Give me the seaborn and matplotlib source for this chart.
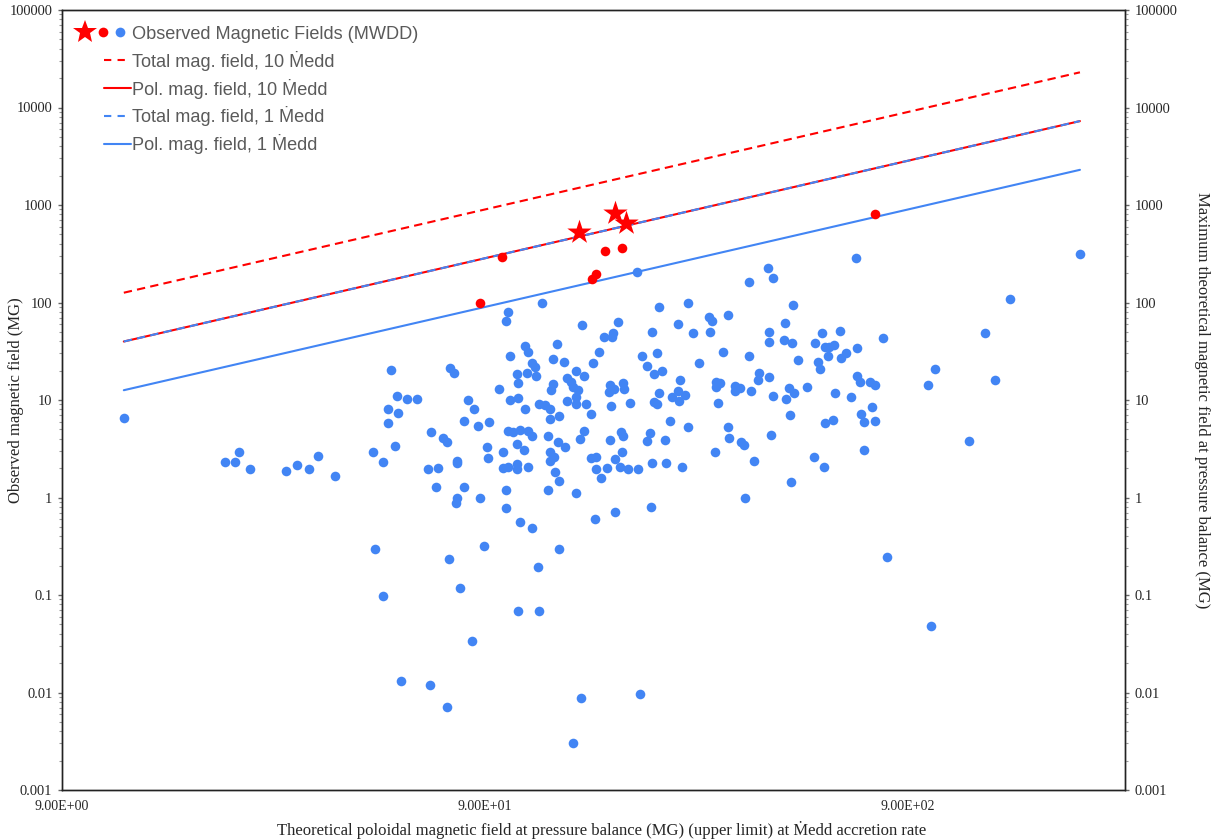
import matplotlib
matplotlib.use("Agg")
import matplotlib.pyplot as plt
import seaborn as sns
from matplotlib.lines import Line2D
from matplotlib.legend_handler import HandlerBase
from matplotlib.ticker import FixedLocator, FixedFormatter, NullLocator, LogLocator, NullFormatter

# ---------------- data ----------------
blue_x = [12.6, 21.9, 23.1, 23.6, 25.0, 30.4, 32.3, 34.5, 36.3, 39.8,
          53.9, 74.4, 76.0, 107, 113, 119, 108, 97.1, 55.7, 58.9,
          62.1, 82.0, 103, 108, 121, 125, 128, 53.1, 84.8, 112,
          56.0, 80.3, 92.0, 53.1, 86.6, 128, 67.1, 102, 105, 109,
          114, 116, 127, 71.5, 73.0, 107, 90.9, 111, 55.1, 48.9,
          99.2, 128, 131, 128, 51.6, 91.5, 77.3, 77.3, 66.0, 69.7,
          99.2, 102, 107, 107, 114, 68.9, 80.3, 101, 127, 77.3,
          76.8, 87.6, 101, 109, 116, 49.4, 89.5, 74.0, 120, 123,
          102, 101, 112, 114, 103, 116, 118, 130, 51.6, 78.5,
          108, 121, 83.8, 57.0, 66.7, 73.2, 152, 209, 145, 206,
          379, 232, 272, 153, 186, 257, 305, 310, 338, 223,
          279, 306, 172, 181, 180, 133, 167, 229, 329, 138,
          162, 211, 217, 288, 379, 148, 236, 154, 141, 130,
          129, 144, 145, 149, 178, 191, 177, 192, 182, 226,
          260, 232, 257, 249, 267, 259, 226, 229, 316, 323,
          316, 351, 361, 351, 383, 141, 148, 148, 156, 179,
          198, 320, 160, 135, 246, 272, 338, 154, 151, 189,
          191, 221, 217, 178, 240, 340, 363, 369, 134, 139,
          190, 315, 160, 165, 183, 165, 175, 188, 196, 207,
          223, 241, 263, 132, 169, 135, 148, 371, 222, 183,
          164, 135, 678, 420, 432, 481, 461, 422, 422, 458,
          479, 563, 622, 542, 573, 585, 602, 682, 786, 582,
          642, 625, 494, 551, 557, 1042, 400, 398, 422,
          432, 463, 471, 484, 519, 605, 660, 682, 693, 732,
          752, 1004, 473, 740, 697, 708, 752, 598, 573, 427,
          389, 540, 570, 708, 476, 803,
          2295, 1568, 1368, 1445, 1254, 1020]
blue_y = [6.54, 2.31, 2.31, 2.93, 1.96, 1.87, 2.16, 1.96, 2.67, 1.66,
          20.3, 21.3, 18.9, 18.5, 18.9, 17.6, 14.9, 13.0, 11.0, 10.2,
          10.2, 10.0, 10.0, 10.5, 9.1, 8.9, 8.09, 8.09, 8.09, 8.09,
          7.36, 6.09, 5.95, 5.81, 5.42, 6.39, 4.70, 4.81, 4.70, 4.93,
          4.81, 4.28, 4.28, 4.10, 3.70, 3.54, 3.30, 3.07, 3.38, 2.93,
          2.93, 2.93, 2.60, 2.37, 2.31, 2.54, 2.37, 2.26, 1.96, 2.01,
          2.01, 2.06, 2.21, 1.96, 2.06, 1.28, 1.28, 1.19, 1.19, 0.99,
          0.88, 0.99, 0.78, 0.56, 0.49, 0.297, 0.318, 0.234, 0.194, 98.9,
          80.0, 64.6, 35.8, 31.1, 28.3, 24.0, 21.8, 26.3, 0.098, 0.118,
          0.069, 0.069, 0.034, 0.0131, 0.0120, 0.0071, 0.0088, 0.0097, 0.0030, 206,
          162, 90.0, 98.9, 58.8, 63.1, 60.2, 71.0, 64.6, 74.5, 49.8,
          48.7, 49.8, 44.3, 48.7, 44.3, 37.5, 31.1, 30.4, 31.1, 24.5,
          24.0, 28.3, 22.3, 24.0, 28.3, 19.8, 19.8, 17.6, 16.8, 14.6,
          12.7, 15.3, 13.6, 12.7, 14.3, 14.9, 12.1, 13.0, 13.0, 18.5,
          16.0, 11.8, 12.4, 10.7, 11.3, 9.77, 9.54, 9.10, 15.3, 14.9,
          13.6, 13.9, 13.3, 12.4, 12.4, 9.77, 10.7, 9.10, 9.10, 8.68,
          9.32, 9.32, 7.19, 6.86, 6.09, 5.29, 5.29, 4.81, 3.98, 4.70,
          4.28, 4.59, 3.80, 3.89, 3.89, 4.08, 3.71, 3.46, 3.71, 3.30,
          2.93, 2.93, 2.54, 2.60, 2.48, 1.96, 2.01, 2.06, 1.96, 1.96,
          2.26, 2.26, 2.06, 1.83, 1.59, 1.48, 1.11, 0.99, 0.80, 0.71,
          0.60, 0.297, 286, 226, 178, 94.3, 61.6, 49.8, 39.4, 41.3,
          38.4, 48.7, 51.0, 38.4, 35.0, 35.0, 36.7, 34.2, 43.3, 28.3,
          30.4, 27.0, 25.7, 24.5, 20.8, 20.8, 18.9, 16.0, 17.2,
          11.0, 10.2, 13.3, 11.8, 13.6, 11.8, 10.7, 17.6, 15.3, 15.3,
          14.3, 14.3, 7.02, 8.48, 7.19, 5.95, 6.09, 6.24, 5.81, 4.38,
          2.37, 2.60, 2.06, 3.07, 1.44, 0.245,
          314, 109, 48.7, 16.0, 3.80, 0.048]

red_x = [87.6, 99, 173, 190, 165, 161, 752]
red_y = [99, 293, 338, 362, 196, 174, 809]
star_x = [150, 183, 194]
star_y = [528, 828, 653]

line_x = [12.6, 2295]
total_10 = [126, 22950]
pol_10 = [39.8, 7257]
total_1 = [39.8, 7257]
pol_1 = [12.6, 2295]

series_labels = ["Observed Magnetic Fields (MWDD)",
                 "Total mag. field, 10 \u1E40edd",
                 "Pol. mag. field, 10 \u1E40edd",
                 "Total mag. field, 1 \u1E40edd",
                 "Pol. mag. field, 1 \u1E40edd"]
x_tick_vals = [9, 90, 900]
x_tick_labels = ["9.00E+00", "9.00E+01", "9.00E+02"]
y_tick_vals = [0.001, 0.01, 0.1, 1, 10, 100, 1000, 10000, 100000]
y_tick_labels = ["0.001", "0.01", "0.1", "1", "10", "100", "1000", "10000", "100000"]

BLUE = "#4285F4"
RED = "#FF0000"

# ---------------- style ----------------
sns.set_style("white")
plt.rcParams["font.family"] = ["Liberation Serif", "DejaVu Serif"]

fig = plt.figure(figsize=(12.19, 8.39), dpi=100)
ax = fig.add_axes([62 / 1219, 1 - 790 / 839, (1125 - 62) / 1219, 780 / 839])
ax.set_xscale("log")
ax.set_yscale("log")

dash = (0, (4, 2.5))
sns.lineplot(x=line_x, y=total_10, ax=ax, color=RED, linestyle=dash, linewidth=1.5, zorder=2)
sns.lineplot(x=line_x, y=pol_10, ax=ax, color=RED, linewidth=1.5, zorder=2)
sns.lineplot(x=line_x, y=total_1, ax=ax, color=BLUE, linestyle=dash, linewidth=1.5, zorder=2)
sns.lineplot(x=line_x, y=pol_1, ax=ax, color=BLUE, linewidth=1.5, zorder=2)

sns.scatterplot(x=blue_x, y=blue_y, ax=ax, color=BLUE, s=48, linewidth=0, zorder=3)
sns.scatterplot(x=red_x, y=red_y, ax=ax, color=RED, s=48, linewidth=0, zorder=4)
sns.scatterplot(x=star_x, y=star_y, ax=ax, color=RED, marker="*", s=340, linewidth=0, zorder=5)

ax.set_xlim(9, 2933)
ax.set_ylim(0.001, 100000)

# ticks
ax.xaxis.set_major_locator(FixedLocator(x_tick_vals))
ax.xaxis.set_major_formatter(FixedFormatter(x_tick_labels))
ax.xaxis.set_minor_locator(NullLocator())
ax.tick_params(axis="x", which="both", length=0, pad=7, labelsize=10)

def style_y(a):
    a.yaxis.set_major_locator(FixedLocator(y_tick_vals))
    a.yaxis.set_major_formatter(FixedFormatter(y_tick_labels))
    a.yaxis.set_minor_locator(LogLocator(base=10, subs=range(2, 10), numticks=20))
    a.yaxis.set_minor_formatter(NullFormatter())

style_y(ax)
ax.tick_params(axis="y", which="major", direction="out", length=3, width=1, color="#666666", pad=4, labelsize=10.4, left=True)
ax.tick_params(axis="y", which="minor", direction="out", length=2.5, width=0.8, color="#999999", left=True)

ax2 = ax.twinx()
ax2.set_yscale("log")
ax2.set_ylim(0.001, 100000)
style_y(ax2)
ax2.tick_params(axis="y", which="major", direction="out", length=3, width=1, color="#666666", pad=4, labelsize=10.4, right=True)
ax2.tick_params(axis="y", which="minor", direction="out", length=2.5, width=0.8, color="#999999", right=True)

for a in (ax, ax2):
    for sp in a.spines.values():
        sp.set_visible(True)
        sp.set_color("#222222")
        sp.set_linewidth(1.0)

# labels
ax.set_xlabel("Theoretical poloidal magnetic field at pressure balance (MG) (upper limit) at \u1E40edd accretion rate",
              fontsize=12, va="center")
ax.xaxis.set_label_coords(0.508, -0.0513)
ax.set_ylabel("Observed magnetic field (MG)", fontsize=12, va="center")
ax.yaxis.set_label_coords(-0.0433, 0.5)
ax2.set_ylabel("Maximum theoretical magnetic field at pressure balance (MG)", fontsize=12,
               rotation=270, va="center", ha="center")
ax2.yaxis.set_label_coords(1.0725, 0.5)

# legend
class ObsHandler(HandlerBase):
    def create_artists(self, legend, orig_handle, xdescent, ydescent, width, height, fontsize, trans):
        y = height / 2 - ydescent
        x0 = -xdescent
        arts = []
        for frac, mk, col, ms in [(0.18, "*", RED, 18), (0.50, "o", RED, 7), (0.81, "o", BLUE, 7)]:
            l = Line2D([x0 + frac * width], [y], marker=mk, color=col, markersize=ms,
                       linestyle="None", markeredgewidth=0)
            l.set_transform(trans)
            arts.append(l)
        return arts

class ShortLineHandler(HandlerBase):
    def create_artists(self, legend, orig_handle, xdescent, ydescent, width, height, fontsize, trans):
        y = height / 2 - ydescent
        x0 = -xdescent
        l = Line2D([x0 + 0.52 * width, x0 + width], [y, y], color=orig_handle.get_color(),
                   linestyle=orig_handle.get_linestyle(), linewidth=orig_handle.get_linewidth())
        if orig_handle.get_linestyle() == "--":
            l.set_dashes((3.5, 3))
        l.set_transform(trans)
        return [l]

h_obs = Line2D([], [], color=BLUE)
h1 = Line2D([], [], color=RED, linestyle="--", linewidth=1.5)
h2 = Line2D([], [], color=RED, linestyle="-", linewidth=1.5)
h3 = Line2D([], [], color=BLUE, linestyle="--", linewidth=1.5)
h4 = Line2D([], [], color=BLUE, linestyle="-", linewidth=1.5)
line_handler = ShortLineHandler()
leg = ax2.legend([h_obs, h1, h2, h3, h4], series_labels,
                 handler_map={h_obs: ObsHandler(), h1: line_handler, h2: line_handler,
                              h3: line_handler, h4: line_handler},
                 loc="upper left", bbox_to_anchor=(0.005, 0.989), borderaxespad=0,
                 frameon=False, handlelength=3.1, handletextpad=0.06, labelspacing=0.43,
                 prop={"family": ["Liberation Sans", "DejaVu Sans"], "size": 13.1})
for t in leg.get_texts():
    t.set_color("#5a5a5a")

fig.savefig("out.png", dpi=100)
